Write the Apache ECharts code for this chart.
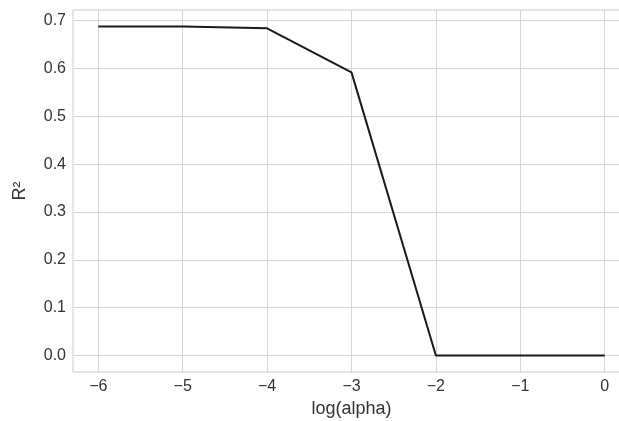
<!DOCTYPE html>
<html>
<head>
<meta charset="utf-8">
<script src="https://cdn.jsdelivr.net/npm/echarts@6/dist/echarts.min.js"></script>
<style>
  html, body { margin: 0; padding: 0; background: #fff; }
  #chart { width: 619px; height: 421px; }
</style>
</head>
<body>
<div id="chart"></div>
<script>
// log10(alpha) vs R² score
const logAlpha = [-6, -5, -4, -3, -2, -1, 0]
const r2 = [0.688, 0.688, 0.684, 0.592, 0.0, 0.0, 0.0]
const xTicks = [-6, -5, -4, -3, -2, -1, 0]
const yTicks = [0.0, 0.1, 0.2, 0.3, 0.4, 0.5, 0.6, 0.7]

const font = '"Liberation Sans", Arial, sans-serif'
const grid = '#d5d5d5'

const chart = echarts.init(document.getElementById('chart'), null, { renderer: 'canvas' })
chart.setOption({
  backgroundColor: '#fff',
  animation: false,
  // plot runs past the right edge of the canvas, like the cropped original
  grid: { left: 73, width: 557, top: 10, height: 362, outerBoundsMode: 'none', containLabel: false,
    show: true, borderColor: '#cccccc', borderWidth: 1, backgroundColor: 'transparent' },
  xAxis: {
    type: 'value', min: -6.3, max: 0.3,
    name: 'log(alpha)', nameLocation: 'middle', nameGap: 27,
    nameTextStyle: { color: '#333', fontSize: 18, fontFamily: font },
    axisLine: { show: false },
    axisTick: { show: false, customValues: xTicks },
    axisLabel: { customValues: xTicks, color: '#333', fontSize: 16, fontFamily: font, margin: 7,
      formatter: v => String(v).replace('-', '\u2212') },
    splitLine: { show: true, lineStyle: { color: grid, width: 1 } }
  },
  yAxis: {
    type: 'value', min: -0.0344, max: 0.7224,
    name: 'R²', nameLocation: 'middle', nameGap: 44,
    nameTextStyle: { color: '#333', fontSize: 18, fontFamily: font },
    axisLine: { show: false },
    axisTick: { show: false, customValues: yTicks },
    axisLabel: { customValues: yTicks, color: '#333', fontSize: 16, fontFamily: font, margin: 7,
      formatter: v => v.toFixed(1) },
    splitLine: { show: true, lineStyle: { color: grid, width: 1 } }
  },
  series: [{
    type: 'line',
    data: logAlpha.map((x, i) => [x, r2[i]]),
    symbol: 'none',
    lineStyle: { color: '#1a1a1a', width: 2 }
  }]
})
</script>
</body>
</html>
